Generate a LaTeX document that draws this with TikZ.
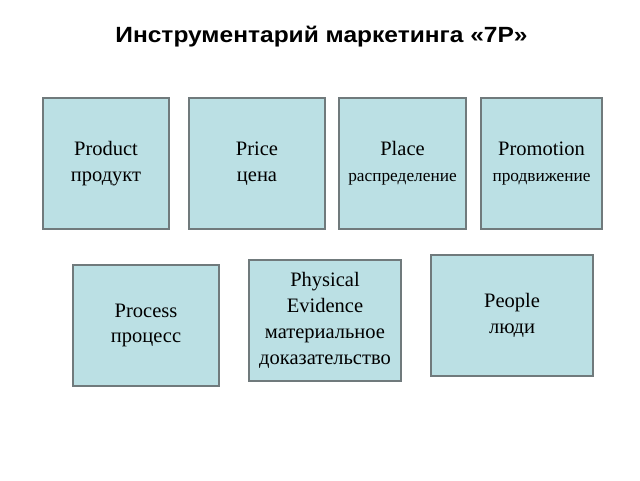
\documentclass[tikz,border=0pt]{standalone}
\usepackage{fontspec}
\setmainfont{Liberation Serif}
\newfontfamily\titlefont{Liberation Sans}
\definecolor{boxfill}{RGB}{187,224,228}
\definecolor{boxline}{RGB}{112,122,124}
\newcommand{\smalltxt}{\fontsize{17.3}{22}\selectfont}
\begin{document}
\begin{tikzpicture}[x=1pt,y=-1pt,
  pbox/.style={draw=boxline, line width=1.2pt, fill=boxfill, inner sep=0pt,
    align=center, font=\fontsize{20.5}{25.8}\selectfont}]
\useasboundingbox (0,0) rectangle (640,480);
\node[font=\titlefont\bfseries\fontsize{22}{24}\selectfont, anchor=base] (title) at (321.5,42) {\scalebox{1.115}[1]{Инструментарий маркетинга «7Р»}};
\node[pbox, minimum width=126pt, minimum height=131pt] (product) at (106,163.5) {Product\\продукт};
\node[pbox, minimum width=136pt, minimum height=131pt] (price) at (257,163.5) {Price\\цена};
\node[pbox, minimum width=127pt, minimum height=131pt] (place) at (402.5,163.5) {Place\\{\smalltxt распределение}};
\node[pbox, minimum width=121pt, minimum height=131pt] (promotion) at (541.5,163.5) {Promotion\\{\smalltxt продвижение}};
\node[pbox, minimum width=146pt, minimum height=121pt] (process) at (146,325.5) {Process\\процесс};
\node[pbox, minimum width=152pt, minimum height=121pt] (physical) at (325,320.5) {Physical\\Evidence\\материальное\\доказательство};
\node[pbox, minimum width=162pt, minimum height=121pt] (people) at (512,315.5) {People\\люди};
\end{tikzpicture}
\end{document}
